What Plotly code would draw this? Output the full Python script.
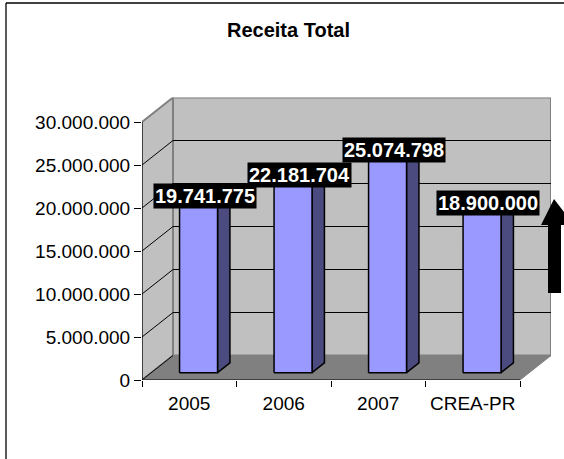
import plotly.graph_objects as go

# Receita total por ano (R$)
categories = ["2005", "2006", "2007", "CREA-PR"]
receita = [19741775, 22181704, 25074798, 18900000]
y_ticks = [0, 5000000, 10000000, 15000000, 20000000, 25000000, 30000000]

W, H = 564, 459

# 3D box projection (in axis units): depth shift of the back wall
DX = 31 / 94.5          # horizontal depth shift, category units
DY = 24.5 / 8.6 * 1e6   # vertical depth shift, value units
Y_MAX = 30000000
N = len(categories)

# bar depth placement (fraction of the floor depth) and half width
D1, D2 = 0.3, 0.7
HW = 0.201

WALL = "#C0C0C0"
WALL_EDGE = "#808080"
FLOOR = "#808080"
FRONT = "#9999FF"
SIDE = "#4B4B80"
TOP = "#7A7ACC"
FONT = "Liberation Sans"


def px_x(p):
    return p / W


def px_y(p):
    return 1 - p / H


def polys(list_of_pts):
    xs, ys = [], []
    for pts in list_of_pts:
        for x, y in pts + [pts[0]]:
            xs.append(x)
            ys.append(y)
        xs.append(None)
        ys.append(None)
    return xs, ys


def add_poly(fig, faces, fill, edge, width):
    xs, ys = polys(faces)
    fig.add_trace(go.Scatter(x=xs, y=ys, mode="lines", fill="toself",
                             fillcolor=fill, line=dict(color=edge, width=width),
                             hoverinfo="skip", showlegend=False))


fig = go.Figure()

# side wall, back wall and floor
add_poly(fig, [[(0, 0), (DX, DY), (DX, Y_MAX + DY), (0, Y_MAX)]], WALL, WALL_EDGE, 2)
add_poly(fig, [[(DX, DY), (N + DX, DY), (N + DX, Y_MAX + DY), (DX, Y_MAX + DY)]],
         WALL, WALL_EDGE, 2)
add_poly(fig, [[(0, 0), (N, 0), (N + DX, DY), (DX, DY)]], FLOOR, FLOOR, 1)

# gridlines on the walls
gx, gy = [], []
for v in y_ticks[:-1]:
    gx += [0, DX, None]
    gy += [v, v + DY, None]
    if v > 0:
        gx += [DX, N + DX, None]
        gy += [v + DY, v + DY, None]
fig.add_trace(go.Scatter(x=gx, y=gy, mode="lines",
                         line=dict(color="black", width=1),
                         hoverinfo="skip", showlegend=False))

# bars: side, top and front faces
sides, tops, fronts = [], [], []
for i, v in enumerate(receita):
    c = i + 0.5
    xl1, xr1 = c + D1 * DX - HW, c + D1 * DX + HW
    xl2, xr2 = c + D2 * DX - HW, c + D2 * DX + HW
    b1, b2 = D1 * DY, D2 * DY
    t1, t2 = v + D1 * DY, v + D2 * DY
    sides.append([(xr1, b1), (xr2, b2), (xr2, t2), (xr1, t1)])
    tops.append([(xl1, t1), (xr1, t1), (xr2, t2), (xl2, t2)])
    fronts.append([(xl1, b1), (xr1, b1), (xr1, t1), (xl1, t1)])
add_poly(fig, sides, SIDE, "black", 1.5)
add_poly(fig, tops, TOP, "black", 1.5)
add_poly(fig, fronts, FRONT, "black", 1.5)

# front axis lines
fig.add_trace(go.Scatter(x=[0, 0, None, 0, N], y=[0, Y_MAX, None, 0, 0],
                         mode="lines", line=dict(color="black", width=1),
                         hoverinfo="skip", showlegend=False))

# invisible trace so the category axis is drawn
fig.add_trace(go.Scatter(x=[0.5], y=[0], xaxis="x2", yaxis="y", mode="markers",
                         marker=dict(opacity=0), hoverinfo="skip", showlegend=False))

# value labels
for i, v in enumerate(receita):
    txt = f"{v:,}".replace(",", ".")
    fig.add_annotation(x=i + 0.5 + 0.5 * DX, y=v + 0.6 * DY, text=f"<b>{txt}</b>",
                       showarrow=False, xanchor="center", yanchor="middle",
                       bgcolor="black", borderpad=1,
                       font=dict(family=FONT, size=20, color="white"))

# chart title
fig.add_annotation(xref="paper", yref="paper", x=px_x(288), y=px_y(30),
                   text="<b>Receita Total</b>", showarrow=False,
                   xanchor="center", yanchor="middle",
                   font=dict(family=FONT, size=20, color="black"))

x_domain = [px_x(142), px_x(551)]
y_domain = [px_y(380), px_y(97.5)]

# upward arrow at the right edge (cut by the page edge)
arrow = [(554, 199), (541, 225), (548, 225), (548, 293), (561, 293),
         (561, 225), (564, 225), (564, 212)]
arrow_path = "M " + " L ".join(f"{px_x(a)} {px_y(b)}" for a, b in arrow) + " Z"

tickfont = dict(family=FONT, size=19, color="black")

fig.update_layout(
    template="none",
    width=W, height=H, autosize=False,
    margin=dict(l=0, r=0, t=0, b=0, pad=0),
    paper_bgcolor="white", plot_bgcolor="rgba(0,0,0,0)",
    separators=",.",
    dragmode=False,
    showlegend=False,
    font=dict(family=FONT, size=19, color="black"),
    xaxis=dict(domain=x_domain, range=[0, N + DX], showgrid=False, zeroline=False,
               showline=False, tickvals=list(range(N + 1)),
               ticktext=[""] * (N + 1), ticks="outside", ticklen=6,
               tickcolor="black", tickwidth=1, fixedrange=True, automargin=False),
    xaxis2=dict(overlaying="x", anchor="y", side="bottom", range=[0, N + DX],
                showgrid=False, zeroline=False, showline=False,
                tickvals=[i + 0.5 for i in range(N)], ticktext=categories,
                ticks="", ticklabelstandoff=10, fixedrange=True, automargin=False,
                tickfont=tickfont),
    yaxis=dict(domain=y_domain, range=[0, Y_MAX + DY], showgrid=False,
               zeroline=False, showline=False, tickvals=y_ticks,
               tickformat=",.0f", ticks="outside", ticklen=7,
               tickcolor="black", tickwidth=1, fixedrange=True, automargin=False,
               tickfont=tickfont),
    shapes=[
        # chart border (top and left edges fall inside the page)
        dict(type="line", xref="paper", yref="paper",
             x0=px_x(6), y0=px_y(3), x1=1, y1=px_y(3),
             line=dict(color="black", width=1.3), layer="above"),
        dict(type="line", xref="paper", yref="paper",
             x0=px_x(6), y0=px_y(3), x1=px_x(6), y1=0,
             line=dict(color="black", width=1.3), layer="above"),
        dict(type="path", xref="paper", yref="paper", path=arrow_path,
             fillcolor="black", line=dict(color="black", width=0), layer="above"),
    ],
)

# static rendering: no drag handles spilling past the page edge
fig.write_html("out.html", config={"staticPlot": True})
